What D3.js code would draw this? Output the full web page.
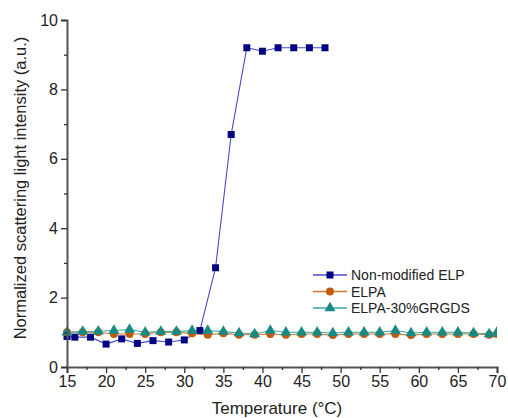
<!DOCTYPE html>
<html><head><meta charset="utf-8">
<script src="https://cdn.jsdelivr.net/npm/d3@7"></script>
<style>body{margin:0;background:#fff}svg{display:block}</style>
</head><body>
<svg id="c" width="508" height="418"></svg>
<script>
const elpTemps = [15,16,18,20,22,24,26,28,30,32,34,36,38,40,42,44,46,48];
const elpValues = [0.88,0.86,0.86,0.66,0.81,0.68,0.76,0.72,0.78,1.05,2.86,6.7,9.2,9.1,9.2,9.2,9.2,9.2];
const elpaTemps = [15,17,19,21,23,25,27,29,31,33,35,37,39,41,43,45,47,49,51,53,55,57,59,61,63,65,67,69,70];
const elpaValues = [1.0,1.0,1.0,0.95,0.95,0.95,1.0,1.0,0.97,0.93,0.97,0.93,0.93,0.95,0.93,0.95,0.95,0.92,0.95,0.95,0.95,0.95,0.92,0.95,0.95,0.95,0.95,0.93,0.95];
const rgdTemps = [15,17,19,21,23,25,27,29,31,33,35,37,39,41,43,45,47,49,51,53,55,57,59,61,63,65,67,69,70];
const rgdValues = [1.0,1.02,1.03,1.05,1.08,1.0,1.02,1.02,1.05,1.05,1.02,0.98,0.95,1.05,1.0,1.0,1.0,0.98,1.0,1.0,1.0,1.05,0.98,1.0,1.0,1.0,0.98,0.95,1.0];
const seriesNames = ["Non-modified ELP","ELPA","ELPA-30%GRGDS"];
const xTicks = [15,20,25,30,35,40,45,50,55,60,65,70];
const yTicks = [0,2,4,6,8,10];
const xLabel = "Temperature (°C)";
const yLabel = "Normalized scattering light intensity (a.u.)";

const svg = d3.select("#c");
const L=67, R=497, T=20, B=367;
const x = d3.scaleLinear().domain([15,70]).range([L,R]);
const y = d3.scaleLinear().domain([0,10]).range([B,T]);
const font = "Liberation Sans, Arial, sans-serif";

svg.append("clipPath").attr("id","clip").append("rect")
  .attr("x",L-6).attr("y",T-10).attr("width",R-L+6).attr("height",B-T+10);

const series = [
  {name:seriesNames[0], t:elpTemps, v:elpValues, line:"#4a4ac8", fill:"#000080", shape:d3.symbolSquare, size:49},
  {name:seriesNames[1], t:elpaTemps, v:elpaValues, line:"#d2782a", fill:"#c05a10", shape:d3.symbolCircle, size:50},
  {name:seriesNames[2], t:rgdTemps, v:rgdValues, line:"#3aa8a0", fill:"#178a84", shape:d3.symbolTriangle, size:52}
];

const g = svg.append("g").attr("clip-path","url(#clip)");
const lineGen = d3.line().x(d=>x(d[0])).y(d=>y(d[1]));
series.forEach(s=>{
  const pts = s.t.map((t,i)=>[t,s.v[i]]);
  g.append("path").datum(pts).attr("d",lineGen).attr("fill","none")
   .attr("stroke",s.line).attr("stroke-width",1.1);
});
series.forEach(s=>{
  const pts = s.t.map((t,i)=>[t,s.v[i]]);
  g.selectAll(null).data(pts).enter().append("path")
   .attr("d",d3.symbol().type(s.shape).size(s.size))
   .attr("transform",d=>`translate(${x(d[0])},${y(d[1])})`)
   .attr("fill",s.fill);
});

const xAxis = svg.append("g").attr("transform",`translate(0,${B})`)
  .call(d3.axisBottom(x).tickValues(xTicks).tickSize(6).tickPadding(3).tickFormat(d3.format("d")));
const xMinor = svg.append("g").attr("transform",`translate(0,${B})`)
  .call(d3.axisBottom(x).tickValues(d3.range(17.5,70,5)).tickSize(3).tickFormat(""));
const yAxis = svg.append("g").attr("transform",`translate(${L},0)`)
  .call(d3.axisLeft(y).tickValues(yTicks).tickSize(6).tickPadding(3).tickFormat(d3.format("d")));
const yMinor = svg.append("g").attr("transform",`translate(${L},0)`)
  .call(d3.axisLeft(y).tickValues([1,3,5,7,9]).tickSize(3).tickFormat(""));
[xAxis,xMinor,yAxis,yMinor].forEach(a=>{
  a.select(".domain").attr("stroke","#555").attr("stroke-width",2);
  a.selectAll(".tick line").attr("stroke","#333").attr("stroke-width",1.3);
  a.selectAll("text").attr("font-family",font).attr("font-size",16).attr("fill","#222");
});
xMinor.select(".domain").remove(); yMinor.select(".domain").remove();

svg.append("text").attr("x",277).attr("y",414).attr("text-anchor","middle")
  .attr("font-family",font).attr("font-size",17).attr("fill","#222").text(xLabel);
svg.append("text").attr("transform",`translate(26,188) rotate(-90)`).attr("text-anchor","middle")
  .attr("font-family",font).attr("font-size",16.5).attr("fill","#222").text(yLabel);

const leg = svg.append("g");
series.forEach((s,i)=>{
  const yy = 275 + i*16.5;
  leg.append("line").attr("x1",313).attr("x2",347).attr("y1",yy).attr("y2",yy)
    .attr("stroke",s.line).attr("stroke-width",1.3);
  leg.append("path").attr("d",d3.symbol().type(s.shape).size(s.size))
    .attr("transform",`translate(330,${yy})`).attr("fill",s.fill);
  leg.append("text").attr("x",351).attr("y",yy+5).attr("font-family",font)
    .attr("font-size",14).attr("fill","#222").text(s.name);
});
</script>
</body></html>
